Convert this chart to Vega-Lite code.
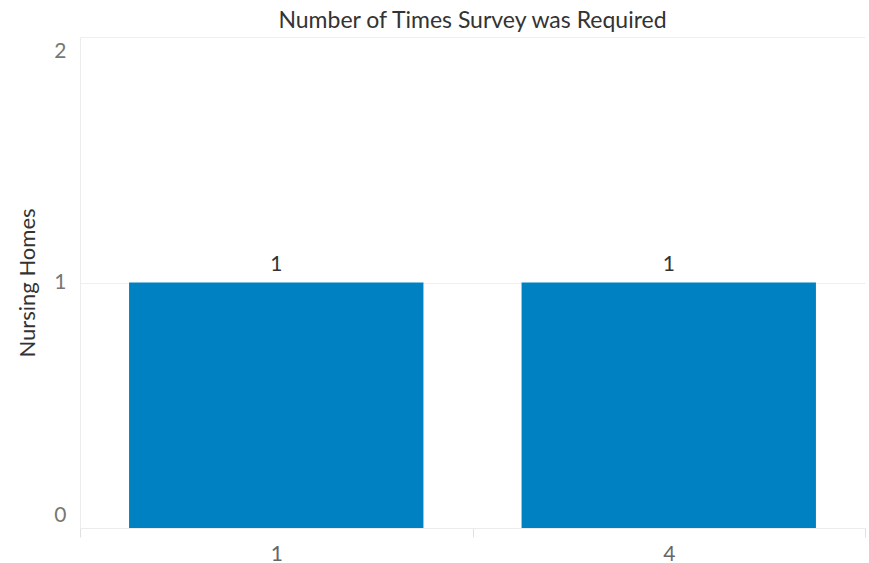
{
  "$schema": "https://vega.github.io/schema/vega-lite/v6.json",
  "width": 785,
  "height": 491,
  "autosize": {"type": "none"},
  "padding": {"left": 80, "top": 37, "right": 4, "bottom": 35},
  "background": "white",
  "config": {
    "font": "Lato",
    "view": {"stroke": null},
    "title": {"fontSize": 23, "fontWeight": "normal", "color": "#333333", "font": "Lato"}
  },
  "title": {"text": "Number of Times Survey was Required", "anchor": "middle", "offset": 4},
  "data": {
    "values": [
      {"times": "1", "homes": 1},
      {"times": "4", "homes": 1}
    ]
  },
  "encoding": {
    "x": {
      "field": "times",
      "type": "nominal",
      "sort": null,
      "scale": {"paddingInner": 0, "paddingOuter": 0},
      "axis": {
        "title": null,
        "labelAngle": 0,
        "labelFontSize": 21,
        "labelColor": "#666666",
        "labelPadding": 6,
        "tickBand": "extent",
        "tickColor": "#e0e0e0",
        "tickSize": 9,
        "domainColor": "#ececec",
        "grid": false
      }
    },
    "y": {
      "field": "homes",
      "type": "quantitative",
      "scale": {"domain": [0, 2], "nice": false},
      "axis": {
        "title": "Nursing Homes",
        "titleFontSize": 22,
        "titleFontWeight": "normal",
        "titleColor": "#333333",
        "titlePadding": 14,
        "tickCount": 2,
        "labelFontSize": 21,
        "labelColor": "#777777",
        "labelPadding": 14,
        "labelOverlap": false,
        "labelFlush": true,
        "labelFlushOffset": -3,
        "ticks": false,
        "domain": true,
        "domainColor": "#ececec",
        "gridColor": "#efefef"
      }
    }
  },
  "layer": [
    {"mark": {"type": "bar", "color": "#0081C2", "width": {"band": 0.75}}},
    {
      "mark": {"type": "text", "baseline": "bottom", "dy": -8, "fontSize": 21, "color": "#333333"},
      "encoding": {"text": {"field": "homes", "type": "quantitative"}}
    }
  ]
}
